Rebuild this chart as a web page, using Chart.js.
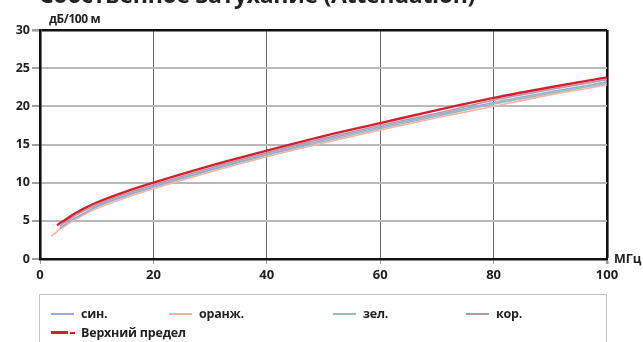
<!DOCTYPE html>
<html>
<head>
<meta charset="utf-8">
<script src="https://cdn.jsdelivr.net/npm/chart.js@4/dist/chart.umd.min.js"></script>
<style>
  html, body { margin: 0; padding: 0; background: #fff; }
  #wrap { position: relative; width: 643px; height: 342px; overflow: hidden; font-family: "Open Sans", "Noto Sans", sans-serif; color: #222; }
  #chart { position: absolute; left: 0; top: 0; }
  .txt { position: absolute; white-space: nowrap; }
  #title { left: 39px; top: -22px; font-size: 23px; font-weight: 700; letter-spacing: -0.3px; }
  #yunit { left: 49px; top: 10px; font-size: 12px; font-weight: 700; letter-spacing: -0.4px; }
  #xunit { left: 614px; top: 250px; font-size: 12.5px; font-weight: 700; }
  #legend { position: absolute; left: 39px; top: 294px; width: 568px; height: 60px; border: 1px solid #c4c4c4; box-sizing: border-box; }
  .item { position: absolute; font-size: 12.5px; font-weight: 700; line-height: 16px; letter-spacing: -0.2px; }
  .sw { position: absolute; top: 7px; width: 23px; height: 2px; }
  .lab { position: absolute; left: 30px; top: 0; white-space: nowrap; }
</style>
</head>
<body>
<div id="wrap">
  <canvas id="chart" width="643" height="342"></canvas>
  <div id="title" class="txt">Собственное затухание (Attenuation)</div>
  <div id="yunit" class="txt">дБ/100 м</div>
  <div id="xunit" class="txt">МГц</div>
  <div id="legend"></div>
</div>
<script>
// Frequency points, MHz
const freqs = [2, 3, 3.5, 4, 6, 8, 10, 15, 20, 30, 40, 50, 60, 70, 80, 90, 100];

// Attenuation per pair, dB/100 m
const blueVals   = [null, null, 4.0, 4.3, 5.3, 6.1, 6.9, 8.3, 9.5, 11.7, 13.7, 15.6, 17.3, 18.9, 20.5, 21.9, 23.2];
const orangeVals = [3.0, 3.6, 3.9, 4.1, 5.1, 5.9, 6.6, 8.0, 9.2, 11.4, 13.4, 15.2, 16.9, 18.5, 20.0, 21.5, 22.8];
const greenVals  = [null, null, 3.9, 4.2, 5.2, 6.0, 6.8, 8.2, 9.4, 11.6, 13.6, 15.4, 17.1, 18.7, 20.3, 21.7, 23.0];
const brownVals  = [null, null, 4.3, 4.6, 5.6, 6.4, 7.1, 8.5, 9.7, 11.9, 13.9, 15.8, 17.5, 19.1, 20.8, 22.2, 23.5];
const limitVals  = [null, 4.4, 4.7, 4.9, 5.9, 6.7, 7.4, 8.8, 10.0, 12.2, 14.2, 16.1, 17.8, 19.5, 21.1, 22.5, 23.8];

const seriesNames = ["син.", "оранж.", "зел.", "кор.", "Верхний предел"];
const xTicks = [0, 20, 40, 60, 80, 100];
const yTicks = [0, 5, 10, 15, 20, 25, 30];

const colors = ["#93acd8", "#f6b4a6", "#9dbcb2", "#b994a3", "#d61f2c"];
const widths = [1.6, 1.6, 1.6, 1.6, 2.4];
const allVals = [blueVals, orangeVals, greenVals, brownVals, limitVals];

function pts(vals) {
  const out = [];
  vals.forEach((v, i) => { if (v !== null) out.push({ x: freqs[i], y: v }); });
  return out;
}

const datasets = allVals.map((vals, i) => ({
  label: seriesNames[i],
  data: pts(vals),
  borderColor: colors[i],
  borderWidth: widths[i],
  pointRadius: 0,
  fill: false,
  cubicInterpolationMode: "monotone",
  order: i === 4 ? 0 : 1
}));

const FONT = { family: "'Open Sans', 'Noto Sans', sans-serif", weight: "700" };

new Chart(document.getElementById("chart"), {
  type: "line",
  data: { datasets },
  options: {
    responsive: false,
    animation: false,
    events: [],
    layout: { padding: { left: 0, right: 36, top: 30, bottom: 58 } },
    plugins: { legend: { display: false }, tooltip: { enabled: false } },
    scales: {
      x: {
        type: "linear",
        min: 0, max: 100,
        afterBuildTicks: s => { s.ticks = xTicks.map(v => ({ value: v })); },
        afterFit: s => { s.height = 25; },
        ticks: { color: "#222", font: { ...FONT, size: 13 }, padding: 3 },
        grid: {
          color: c => (c.tick && (c.tick.value === 100)) ? "#111" : "#6a6a6a",
          lineWidth: c => (c.tick && (c.tick.value === 100)) ? 2.6 : 1,
          tickLength: 5,
          tickColor: "#999"
        },
        border: { color: "#111", width: 2.6 }
      },
      y: {
        min: 0, max: 30,
        afterBuildTicks: s => { s.ticks = yTicks.map(v => ({ value: v })); },
        afterFit: s => { s.width = 40; },
        ticks: { color: "#222", font: { ...FONT, size: 12.5 }, padding: 2 },
        grid: {
          color: c => (c.tick && c.tick.value === 30) ? "#111" : "#b9b9b9",
          lineWidth: c => (c.tick && c.tick.value === 30) ? 2.6 : 2,
          tickLength: 8,
          tickColor: "#a0a0a0"
        },
        border: { color: "#111", width: 2.6 }
      }
    }
  }
});

// Legend block below the plot
const legend = document.getElementById("legend");
const legendPos = [[11, 19], [129, 19], [293, 19], [426, 19], [11, 38]];
seriesNames.forEach((name, i) => {
  const it = document.createElement("div");
  it.className = "item";
  it.style.left = legendPos[i][0] + "px";
  it.style.top = (legendPos[i][1] - 8) + "px";
  if (i === 4) {
    const a = document.createElement("div");
    a.className = "sw";
    a.style.width = "17px"; a.style.height = "3px"; a.style.top = "6px";
    a.style.background = colors[i];
    const b = document.createElement("div");
    b.className = "sw";
    b.style.left = "19px"; b.style.width = "5px"; b.style.height = "2px";
    b.style.background = colors[i];
    it.appendChild(a); it.appendChild(b);
  } else {
    const s = document.createElement("div");
    s.className = "sw";
    s.style.background = colors[i];
    it.appendChild(s);
  }
  const l = document.createElement("div");
  l.className = "lab";
  l.textContent = name;
  it.appendChild(l);
  legend.appendChild(it);
});
</script>
</body>
</html>
